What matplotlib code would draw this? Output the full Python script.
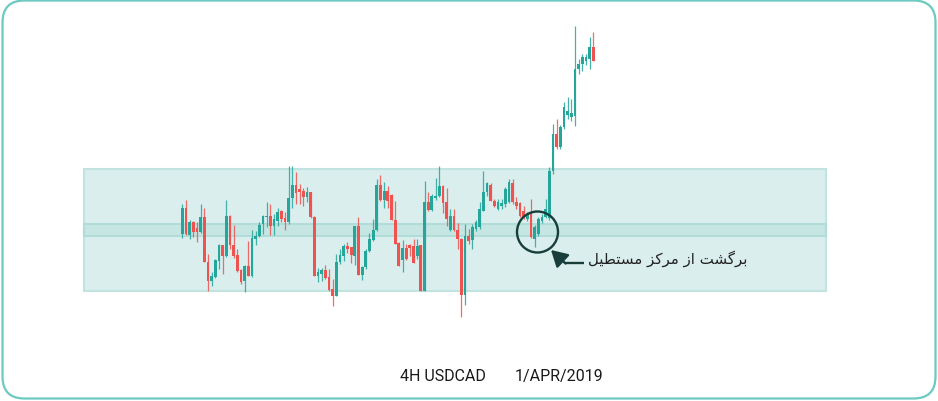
import numpy as np
import matplotlib.pyplot as plt
from matplotlib.patches import Rectangle, FancyBboxPatch, Circle, FancyArrowPatch

# USDCAD 4H candles, values in pips above 1.3000
base_price = 1.3000
opens_pips = [165, 191, 164, 177, 171, 167, 182, 137, 118, 122,
              138, 154, 143, 183, 154, 144, 129, 118, 133, 123,
              160, 163, 175, 182, 183, 173, 178, 188, 181, 177,
              201, 214, 210, 208, 202, 207, 182, 123, 125, 129,
              122, 110, 103, 137, 143, 153, 152, 143, 173, 124,
              132, 148, 159, 169, 214, 199, 208, 204, 179, 156,
              139, 151, 154, 153, 143, 154, 108, 197, 189, 201,
              203, 213, 197, 169, 183, 169, 160, 104, 163, 159,
              170, 172, 188, 207, 214, 198, 190, 193, 195, 197,
              216, 197, 196, 188, 180, 186, 160, 165, 178, 182,
              181, 228, 265, 252, 272, 284, 282, 283, 330, 335,
              338, 340, 352]
highs_pips = [195, 199, 179, 178, 177, 195, 191, 145, 127, 140,
              155, 154, 199, 184, 174, 150, 130, 134, 158, 169,
              168, 177, 184, 197, 195, 185, 191, 189, 187, 233,
              233, 227, 215, 211, 212, 207, 183, 131, 131, 134,
              130, 120, 145, 150, 155, 157, 152, 173, 182, 133,
              150, 166, 180, 220, 224, 217, 213, 205, 198, 157,
              159, 155, 155, 160, 160, 154, 218, 207, 205, 221,
              233, 214, 211, 190, 190, 176, 161, 175, 170, 175,
              179, 197, 228, 217, 216, 200, 200, 200, 212, 220,
              220, 202, 197, 193, 187, 200, 174, 182, 185, 200,
              232, 275, 280, 274, 297, 302, 300, 373, 340, 345,
              345, 362, 367]
lows_pips = [161, 164, 160, 162, 157, 166, 137, 108, 113, 121,
             130, 125, 142, 150, 141, 127, 115, 107, 123, 122,
             154, 162, 165, 172, 164, 164, 173, 177, 169, 175,
             191, 195, 195, 193, 197, 181, 123, 117, 118, 120,
             108, 93, 103, 135, 138, 146, 136, 134, 124, 119,
             130, 147, 158, 168, 198, 191, 191, 179, 155, 133,
             127, 139, 143, 136, 140, 108, 108, 188, 188, 199,
             202, 186, 173, 168, 168, 150, 82, 94, 155, 150,
             168, 170, 188, 203, 198, 192, 189, 190, 192, 196,
             195, 190, 182, 180, 178, 161, 152, 163, 176, 181,
             179, 225, 250, 250, 270, 280, 278, 273, 325, 328,
             334, 330, 338]
closes_pips = [191, 165, 177, 167, 167, 182, 137, 118, 123, 139,
               154, 143, 183, 154, 143, 128, 117, 133, 123, 161,
               163, 174, 183, 183, 173, 180, 187, 180, 177, 201,
               214, 206, 207, 202, 207, 182, 123, 127, 129, 121,
               109, 103, 137, 144, 153, 150, 144, 173, 124, 132,
               148, 160, 169, 214, 199, 208, 198, 179, 155, 133,
               151, 140, 151, 136, 153, 108, 197, 189, 203, 203,
               213, 196, 180, 183, 169, 160, 104, 163, 158, 172,
               177, 190, 207, 216, 198, 193, 197, 196, 210, 217,
               197, 193, 183, 182, 185, 162, 172, 180, 182, 190,
               228, 265, 252, 272, 292, 288, 286, 330, 335, 342,
               342, 352, 338]

# range box levels
box_top = 1.3230
box_bottom = 1.3108
mid_top = 1.3175
mid_bottom = 1.3163
box_start = -26.8   # in candle units
box_end = 175.5

caption_left = '4H USDCAD'
caption_right = '1/APR/2019'
# "برگشت از مرکز مستطیل" in shaped presentation forms, visual order
note_text = ('\ufede\ufef4\ufec4\ufe98\ufeb4\ufee3 '
             '\ufeb0\ufedb\ufeae\ufee3 '
             '\ufeaf\ufe8d '
             '\ufe96\ufeb8\ufb94\ufeae\ufe91')

# colours
up_color = '#26a69a'
down_color = '#ef5350'
box_fill = '#daeeee'
box_edge = '#c2e4e1'
mid_fill = '#c5e6e3'
mid_edge = '#b2dcd7'
frame_color = '#6ccac1'
mark_color = '#173e3a'

o = base_price + np.array(opens_pips) / 10000
h = base_price + np.array(highs_pips) / 10000
l = base_price + np.array(lows_pips) / 10000
c = base_price + np.array(closes_pips) / 10000
idx = np.arange(len(o))

fig = plt.figure(figsize=(9.38, 4.02), dpi=100)
ax = fig.add_axes([0, 0, 1, 1])
ax.set_xlim(-49.67, 205.9)
ax.set_ylim(1.2998, 1.3400)
ax.axis('off')

# range box with middle band
ax.add_patch(Rectangle((box_start, box_bottom), box_end - box_start, box_top - box_bottom,
                       facecolor=box_fill, edgecolor=box_edge, linewidth=1.5, zorder=1))
ax.add_patch(Rectangle((box_start, mid_bottom), box_end - box_start, mid_top - mid_bottom,
                       facecolor=mid_fill, edgecolor=mid_edge, linewidth=1.5, zorder=1))

# candles
colors = np.where(c >= o, up_color, down_color)
ax.vlines(idx, l, h, colors=colors, linewidth=0.9, alpha=0.85, zorder=3)
body_bottom = np.minimum(o, c)
body_height = np.maximum(np.abs(c - o), 0.0001)
ax.bar(idx, body_height, bottom=body_bottom, width=0.75, color=colors, linewidth=0, zorder=4)

# overlay in pixel units for frame, marker and captions
ov = fig.add_axes([0, 0, 1, 1])
ov.set_xlim(0, 938)
ov.set_ylim(402, 0)
ov.axis('off')
ov.patch.set_alpha(0)

ov.add_patch(FancyBboxPatch((2.5, 1.5), 933, 398, boxstyle='round,pad=0,rounding_size=22',
                            facecolor='none', edgecolor=frame_color, linewidth=1.6))

ov.add_patch(Circle((537.5, 233), 20.5, facecolor='none', edgecolor=mark_color, linewidth=1.7, zorder=5))
ov.plot([584, 565], [264, 264], color=mark_color, linewidth=1.7, solid_capstyle='butt')
ov.add_patch(FancyArrowPatch((565.5, 264.5), (551, 251), arrowstyle='-|>,head_length=0.7,head_width=0.4',
                             mutation_scale=14, color=mark_color, linewidth=1.7,
                             shrinkA=0, shrinkB=0))

ov.text(588, 259, note_text, fontsize=10.8, color='#222222', ha='left', va='center',
        family=['DejaVu Sans'])

ov.text(400, 381, caption_left, fontsize=11.5, color='#1a1a1a', ha='left', va='baseline',
        family=['Roboto', 'DejaVu Sans'])
ov.text(515, 381, caption_right, fontsize=11.5, color='#1a1a1a', ha='left', va='baseline',
        family=['Roboto', 'DejaVu Sans'])

fig.savefig('out.png', dpi=100)
